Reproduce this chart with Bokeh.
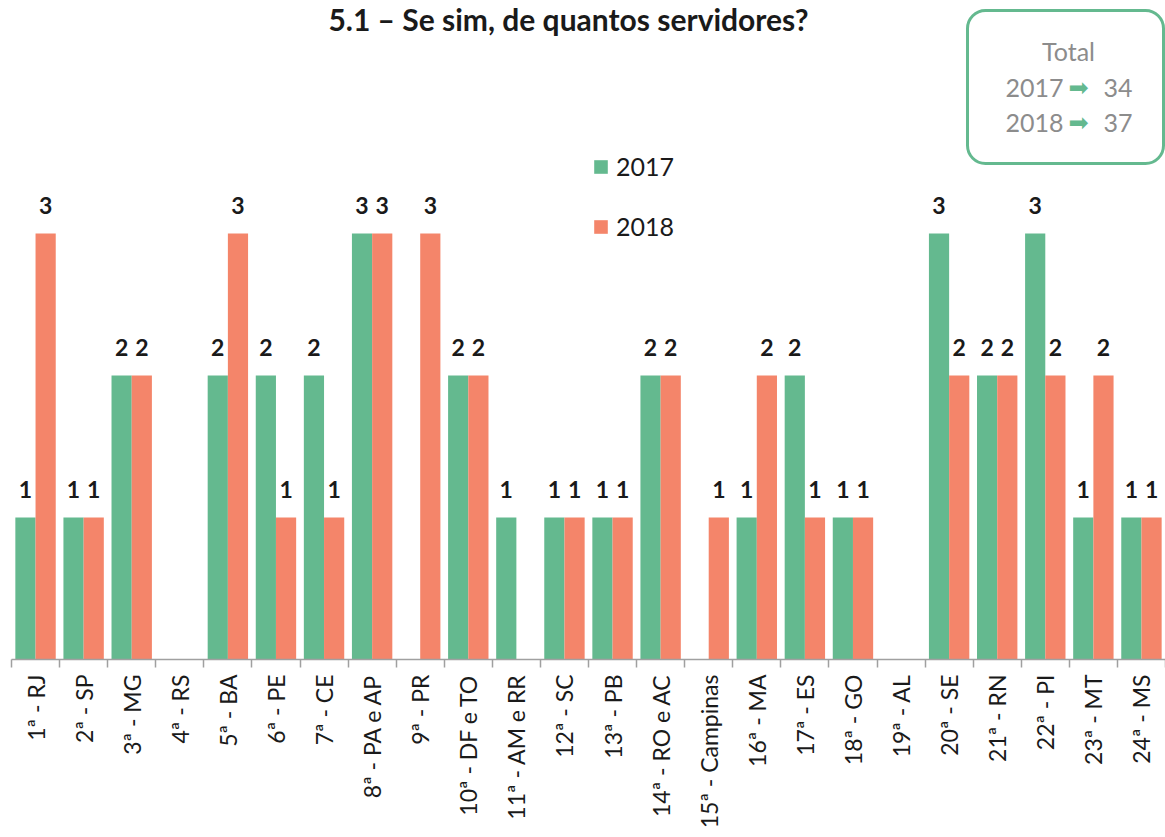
import math
from bokeh.plotting import figure
from bokeh.models import (Range1d, FixedTicker, ColumnDataSource, Legend, LegendItem,
                          Label, BoxAnnotation)
from bokeh.transform import dodge
from bokeh.core.properties import value
from bokeh.embed import file_html
from bokeh.resources import INLINE

# ---------------- data ----------------
categories = ["1ª - RJ", "2ª - SP", "3ª - MG", "4ª - RS", "5ª - BA", "6ª - PE", "7ª - CE",
              "8ª - PA e AP", "9ª - PR", "10ª - DF e TO", "11ª - AM e RR", "12ª - SC",
              "13ª - PB", "14ª - RO e AC", "15ª - Campinas", "16ª - MA", "17ª - ES",
              "18ª - GO", "19ª - AL", "20ª - SE", "21ª - RN", "22ª - PI", "23ª - MT", "24ª - MS"]
v2017 = [1, 1, 2, 0, 2, 2, 2, 3, 0, 2, 1, 1, 1, 2, 0, 1, 2, 1, 0, 3, 2, 3, 1, 1]
v2018 = [3, 1, 2, 0, 3, 1, 1, 3, 3, 2, 0, 1, 1, 2, 1, 2, 1, 1, 0, 2, 2, 2, 2, 1]
years = ["2017", "2018"]
totals = [34, 37]
title_text = "5.1 – Se sim, de quantos servidores?"

GREEN = "#64B98F"
ORANGE = "#F4856A"
GRAY = "#8C8C8C"
AXIS = "#A0A0A0"
FONT = "Lato"

W, H = 1165, 837
LEFT, BOTTOM = 11, 178
FRAME_W, FRAME_H = W - LEFT, H - BOTTOM
YMAX = 4.64
n = len(categories)
PX_X = FRAME_W / n
PX_Y = FRAME_H / YMAX


def dx(page_x):
    return (page_x - LEFT) / PX_X - 0.5


def dy(page_y):
    return (FRAME_H - page_y) / PX_Y


idx = list(range(n))
src = ColumnDataSource(dict(x=idx, cat=categories, y17=v2017, y18=v2018))

p = figure(width=W, height=H, x_range=Range1d(-0.5, n - 0.5), y_range=Range1d(0, YMAX),
           output_backend="svg", toolbar_location=None, y_axis_location=None,
           min_border_left=LEFT, min_border_right=0, min_border_top=0,
           min_border_bottom=BOTTOM)
p.outline_line_color = None
p.grid.grid_line_color = None
p.background_fill_color = "white"

r17 = p.vbar(x=dodge("x", -0.21), top="y17", width=0.42, source=src,
             fill_color=GREEN, line_color=None)
r18 = p.vbar(x=dodge("x", 0.21), top="y18", width=0.42, source=src,
             fill_color=ORANGE, line_color=None)

for vals, off in ((v2017, -0.21), (v2018, 0.21)):
    ls = ColumnDataSource(dict(x=[i for i, v in zip(idx, vals) if v > 0],
                               y=[v for v in vals if v > 0],
                               t=[str(v) for v in vals if v > 0]))
    p.text(x=dodge("x", off), y="y", text="t", source=ls, text_align="center",
           text_baseline="alphabetic", y_offset=-28, text_font=value(FONT),
           text_font_style="bold", text_font_size="23px", text_color="#1a1a1a")

ax = p.xaxis[0]
ax.ticker = FixedTicker(ticks=idx, minor_ticks=[i - 0.5 for i in range(n + 1)])
ax.major_label_overrides = {i: c for i, c in enumerate(categories)}
ax.major_label_orientation = math.pi / 2
ax.major_tick_line_color = None
ax.major_tick_out = 0
ax.major_tick_in = 0
ax.minor_tick_out = 8
ax.minor_tick_in = 0
ax.minor_tick_line_color = AXIS
ax.minor_tick_line_width = 1.5
ax.axis_line_color = AXIS
ax.axis_line_width = 1.5
ax.major_label_standoff = 7
ax.major_label_text_font = FONT
ax.major_label_text_font_size = "23px"
ax.major_label_text_color = "#1a1a1a"

# legend (one per item to control spacing)
for r, yr, cy in ((r17, years[0], 168.5), (r18, years[1], 228.5)):
    leg = Legend(items=[LegendItem(label=yr, renderers=[r])],
                 location=(592 - LEFT, FRAME_H - (cy + 12.5)),
                 glyph_width=17, glyph_height=17, label_height=17,
                 label_standoff=7, label_text_font=FONT, label_text_font_size="25px",
                 label_text_color="#1a1a1a", padding=0, margin=0,
                 border_line_color=None, background_fill_alpha=0)
    p.add_layout(leg, "center")

# title
p.add_layout(Label(x=dx(568), y=dy(18), text=title_text, text_align="center",
                   text_baseline="middle", text_font=FONT, text_font_style="bold",
                   text_font_size="30px", text_color="#1a1a1a"))

# totals box
p.add_layout(BoxAnnotation(left=dx(967), right=dx(1163), top=dy(10), bottom=dy(163),
                           fill_alpha=0, line_color=GREEN, line_alpha=1.0, line_width=3,
                           border_radius=18))
p.add_layout(Label(x=dx(1068), y=dy(50), text="Total", text_align="center",
                   text_baseline="middle", text_font=FONT, text_font_size="25px",
                   text_color=GRAY))
for yr, tot, cy in ((years[0], totals[0], 87), (years[1], totals[1], 122)):
    p.add_layout(Label(x=dx(1005), y=dy(cy), text=yr, text_align="left",
                       text_baseline="middle", text_font=FONT, text_font_size="25px",
                       text_color=GRAY))
    p.add_layout(Label(x=dx(1078), y=dy(cy), text="➡", text_align="center",
                       text_baseline="middle", text_font="DejaVu Sans",
                       text_font_size="24px", text_color=GREEN))
    p.add_layout(Label(x=dx(1103), y=dy(cy), text=str(tot), text_align="left",
                       text_baseline="middle", text_font=FONT, text_font_size="25px",
                       text_color=GRAY))

open("out.html", "w").write(file_html(p, INLINE))
